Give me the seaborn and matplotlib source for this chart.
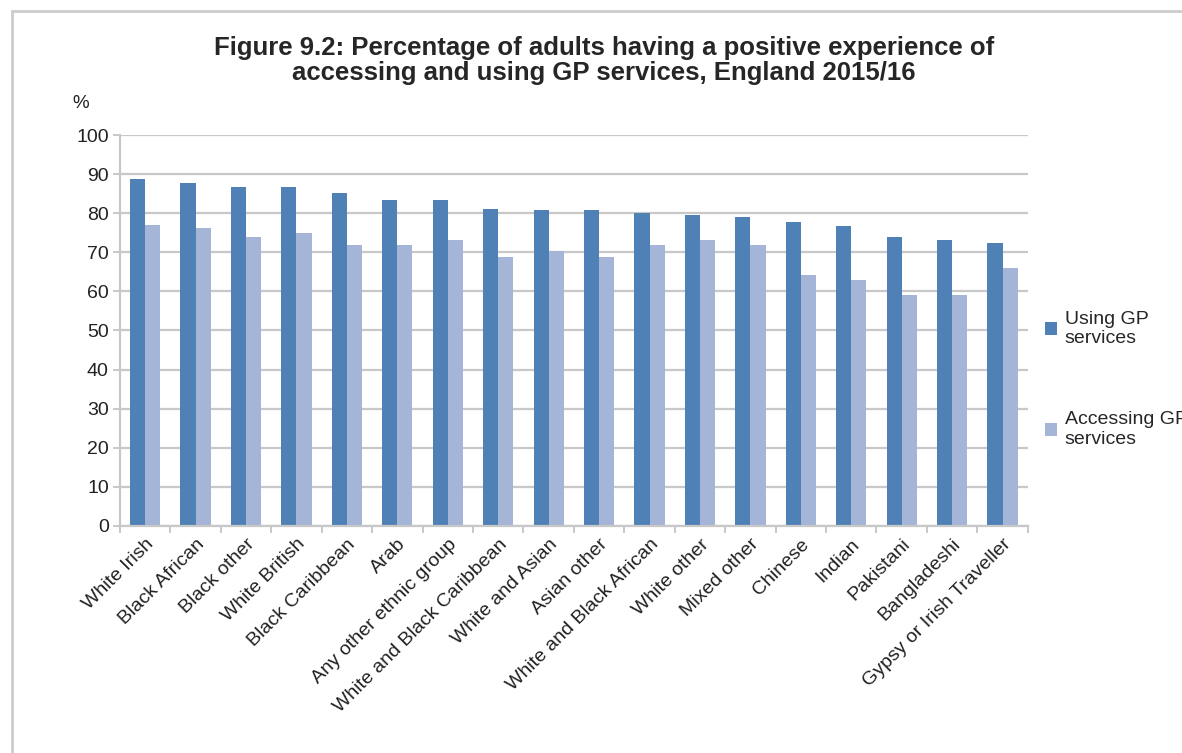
"""Figure 9.2: positive experience of accessing and using GP services, by ethnic group."""

import numpy as np
import pandas as pd
import matplotlib

matplotlib.use("Agg")
import matplotlib.pyplot as plt
from matplotlib.patches import Patch, Rectangle
import seaborn as sns

OUT_PATH = "out.png"

GROUPS = [
    "White Irish", "Black African", "Black other", "White British",
    "Black Caribbean", "Arab", "Any other ethnic group",
    "White and Black Caribbean", "White and Asian", "Asian other",
    "White and Black African", "White other", "Mixed other", "Chinese",
    "Indian", "Pakistani", "Bangladeshi", "Gypsy or Irish Traveller",
]
USING = [88.8, 87.6, 86.8, 86.8, 85.1, 83.4, 83.4, 81.2, 80.8,
         80.8, 80.0, 79.5, 79.1, 77.8, 76.6, 74.0, 73.1, 72.3]
ACCESSING = [77.0, 76.1, 74.0, 74.9, 71.9, 71.9, 73.1, 68.9, 70.3,
             68.9, 71.9, 73.1, 71.9, 64.2, 62.9, 59.1, 59.1, 65.9]
SERIES = ["Using GP\nservices", "Accessing GP\nservices"]
COLORS = ["#4F81B7", "#A5B5D8"]
Y_TICKS = list(range(0, 101, 10))

GRID = "#C8C8C8"


def main() -> None:
    df = pd.DataFrame({
        "group": GROUPS * 2,
        "value": USING + ACCESSING,
        "series": [SERIES[0]] * len(GROUPS) + [SERIES[1]] * len(GROUPS),
    })

    sns.set_style("white")
    plt.rcParams["font.family"] = ["Liberation Sans", "DejaVu Sans"]

    fig = plt.figure(figsize=(11.82, 7.53), dpi=100)
    ax = fig.add_axes([0.1015, 0.3015, 0.768, 0.5192])

    sns.barplot(
        data=df, x="group", y="value", hue="series", order=GROUPS,
        hue_order=SERIES, palette=COLORS, width=0.6, gap=0,
        saturation=1, ax=ax, legend=False, linewidth=0, edgecolor="none",
    )

    ax.set_ylim(0, 100)
    ax.set_yticks(Y_TICKS)
    ax.set_xlim(-0.5, len(GROUPS) - 0.5)
    ax.yaxis.grid(True, color=GRID, linewidth=1.6)
    ax.set_axisbelow(True)
    ax.set_xlabel("")
    ax.set_ylabel("")

    for side in ("top", "right"):
        ax.spines[side].set_visible(False)
    for side in ("left", "bottom"):
        ax.spines[side].set_color(GRID)
        ax.spines[side].set_linewidth(1.6)

    ax.set_xticks(np.arange(-0.5, len(GROUPS), 1), minor=True)
    ax.tick_params(axis="x", which="major", length=0, pad=7, labelsize=14,
                   colors="#222222")
    ax.tick_params(axis="x", which="minor", length=5, width=1.4, color=GRID,
                   direction="out", bottom=True)
    ax.tick_params(axis="y", length=5, width=1.4, color=GRID, direction="out",
                   left=True, labelsize=14, pad=3, labelcolor="#222222")
    plt.setp(ax.get_xticklabels(), rotation=45, ha="right",
             rotation_mode="anchor")

    handles = [Patch(facecolor=c, edgecolor="none") for c in COLORS]
    ax.legend(
        handles, SERIES, loc="center left", bbox_to_anchor=(1.0, 0.375),
        frameon=False, fontsize=14, handlelength=0.6, handleheight=0.6,
        handletextpad=0.4, labelspacing=3.3,
    )

    fig.text(0.511, 0.952,
             "Figure 9.2: Percentage of adults having a positive experience of\n"
             "accessing and using GP services, England 2015/16",
             ha="center", va="top", fontsize=18.5, fontweight="bold",
             linespacing=1.05)
    fig.text(0.061, 1 - 103 / 753, "%", ha="left", va="center", fontsize=13.5,
             color="#222222")

    # outer chart frame (left and top edges visible in the crop)
    fig.patches.append(Rectangle(
        (12 / 1182, -0.1), 1.2, 1 - 11 / 753 + 0.1, transform=fig.transFigure,
        fill=False, edgecolor="#CCCCCC", linewidth=2, zorder=0,
    ))

    fig.savefig(OUT_PATH, dpi=100)


if __name__ == "__main__":
    main()
